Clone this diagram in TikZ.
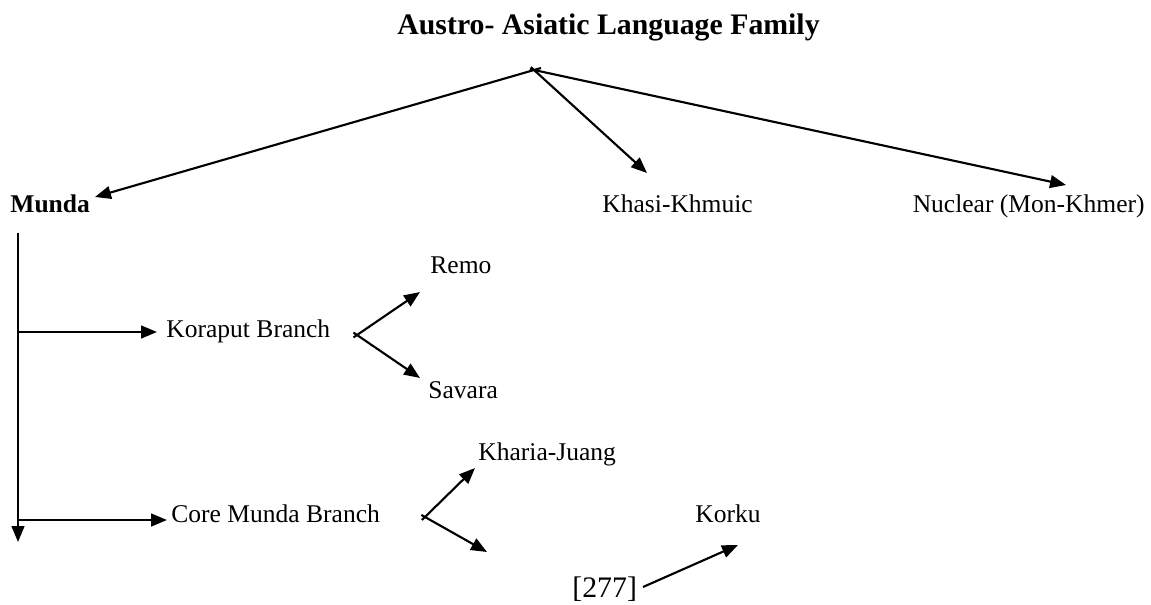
\documentclass[tikz,border=0pt]{standalone}
\usepackage{fontspec}
\setmainfont{Liberation Serif}
\usetikzlibrary{arrows.meta}
\begin{document}
\begin{tikzpicture}[x=0.47pt,y=-0.47pt,
  lbl/.style={inner sep=0pt,anchor=base west,font=\fontsize{12}{14}\selectfont},
  big/.style={inner sep=0pt,anchor=base west,font=\fontsize{14}{16}\selectfont},
  link/.style={line width=1pt,-{Triangle[length=7.5pt,width=6pt]}}]
\useasboundingbox (0,0) rectangle (1151,604);

% labels
\node[big,font=\fontsize{14}{16}\selectfont\bfseries] (title) at (397,34) {Austro- Asiatic Language Family};
\node[lbl,font=\fontsize{12}{14}\selectfont\bfseries] (munda) at (10,212) {Munda};
\node[lbl] (khasi) at (602,212) {Khasi-Khmuic};
\node[lbl,anchor=base east] (nuclear) at (1145,212) {Nuclear (Mon-Khmer)};
\node[lbl] (koraput) at (166,337) {Koraput Branch};
\node[lbl] (remo) at (430,273) {Remo};
\node[lbl] (savara) at (428,398) {Savara};
\node[lbl] (core) at (171,522) {Core Munda Branch};
\node[lbl] (kharia) at (478,460) {Kharia-Juang};
\node[lbl] (korku) at (695,522) {Korku};
\node[big] (page) at (572,597) {[277]};

% branching points and arrow tips
\coordinate (root) at (534,70);
\coordinate (rootL) at (541,68);
\coordinate (toMunda) at (95,197);
\coordinate (toKhasi) at (647,173);
\coordinate (toNuclear) at (1066,185);
\coordinate (trunkTop) at (18,233);
\coordinate (trunkEnd) at (18,542);
\coordinate (kJoin) at (18,332);
\coordinate (toKoraput) at (157,332);
\coordinate (kFork) at (357,335);
\coordinate (toRemo) at (420,292);
\coordinate (toSavara) at (420,378);
\coordinate (cJoin) at (18,520);
\coordinate (toCore) at (167,520);
\coordinate (cFork) at (425,517);
\coordinate (toKharia) at (475,468);
\coordinate (toLower) at (487,552);
\coordinate (pageOut) at (643,587);
\coordinate (toKorku) at (738,545);

% top level
\draw[link] (rootL) -- (toMunda);
\draw[link,shorten <=-2pt] (root) -- (toKhasi);
\draw[link,shorten <=-2pt] (root) -- (toNuclear);

% Munda trunk
\draw[link] (trunkTop) -- (trunkEnd);
\draw[link] (kJoin) -- (toKoraput);
\draw[link] (cJoin) -- (toCore);

% sub-branches
\draw[link,shorten <=-2pt] (kFork) -- (toRemo);
\draw[link,shorten <=-2pt] (kFork) -- (toSavara);
\draw[link,shorten <=-2pt] (cFork) -- (toKharia);
\draw[link,shorten <=-2pt] (cFork) -- (toLower);
\draw[link] (pageOut) -- (toKorku);
\end{tikzpicture}
\end{document}
